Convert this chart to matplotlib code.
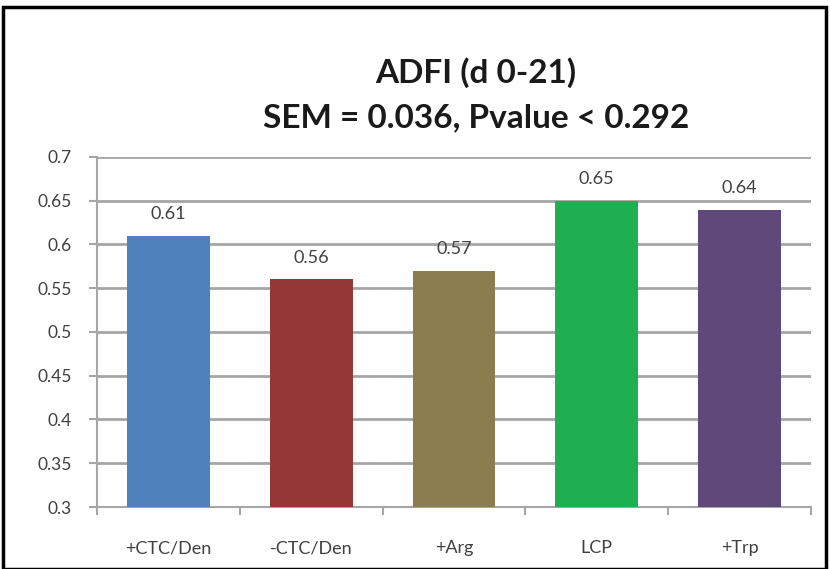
import matplotlib
matplotlib.use("Agg")
import matplotlib.pyplot as plt
from matplotlib.patches import Rectangle
from matplotlib.ticker import MultipleLocator, FixedLocator

categories = ["+CTC/Den", "-CTC/Den", "+Arg", "LCP", "+Trp"]
values = [0.61, 0.56, 0.57, 0.65, 0.64]
colors = ["#4f81bd", "#953735", "#8c7d4f", "#1faf50", "#5f497a"]
title_lines = ["ADFI (d 0-21)", "SEM = 0.036, Pvalue < 0.292"]

plt.rcParams['font.family'] = ['Lato', 'DejaVu Sans']

fig = plt.figure(figsize=(8.3, 5.69), dpi=100)
ax = fig.add_axes([97/830, 1 - 507/569, 714/830, 350/569])

x = list(range(len(categories)))
ax.bar(x, values, width=0.58, color=colors, zorder=3)
for xi, v in zip(x, values):
    ax.annotate(f"{v:.2f}", (xi, v), xytext=(0, 10), textcoords="offset points",
                ha="center", va="bottom", fontsize=13, color="#404040", zorder=4)

ax.set_xlim(-0.5, len(categories) - 0.5)
ax.set_ylim(0.3, 0.7)
ax.yaxis.set_major_locator(MultipleLocator(0.05))
ax.set_yticklabels([f"{t:g}" for t in ax.get_yticks()])
ax.yaxis.grid(True, color="#a6a6a6", linewidth=2, zorder=0)
ax.set_xticks(x)
ax.set_xticklabels(categories)
ax.xaxis.set_minor_locator(FixedLocator([i + 0.5 for i in range(-1, len(categories))]))
ax.tick_params(axis="x", which="major", length=0, pad=24, labelsize=13, labelcolor="#404040")
ax.tick_params(axis="x", which="minor", length=6, width=1.5, color="#a6a6a6", direction="out")
ax.tick_params(axis="y", length=6, width=1.5, color="#a6a6a6", labelsize=12.5,
               labelcolor="#404040", pad=12)
for side in ["top", "right"]:
    ax.spines[side].set_visible(False)
for side in ["left", "bottom"]:
    ax.spines[side].set_color("#a6a6a6")
    ax.spines[side].set_linewidth(1.5)

fig.text(476/830, 1 - 83/569, title_lines[0], ha="center", va="baseline",
         fontsize=24, fontweight="bold", color="#1a1a1a")
fig.text(476/830, 1 - 127/569, title_lines[1], ha="center", va="baseline",
         fontsize=24, fontweight="bold", color="#1a1a1a")

fig.patches.append(Rectangle((3/830, 0), 823/830, 1 - 7/569, transform=fig.transFigure,
                             fill=False, edgecolor="black", linewidth=2.5))

fig.savefig("out.png", dpi=100)
